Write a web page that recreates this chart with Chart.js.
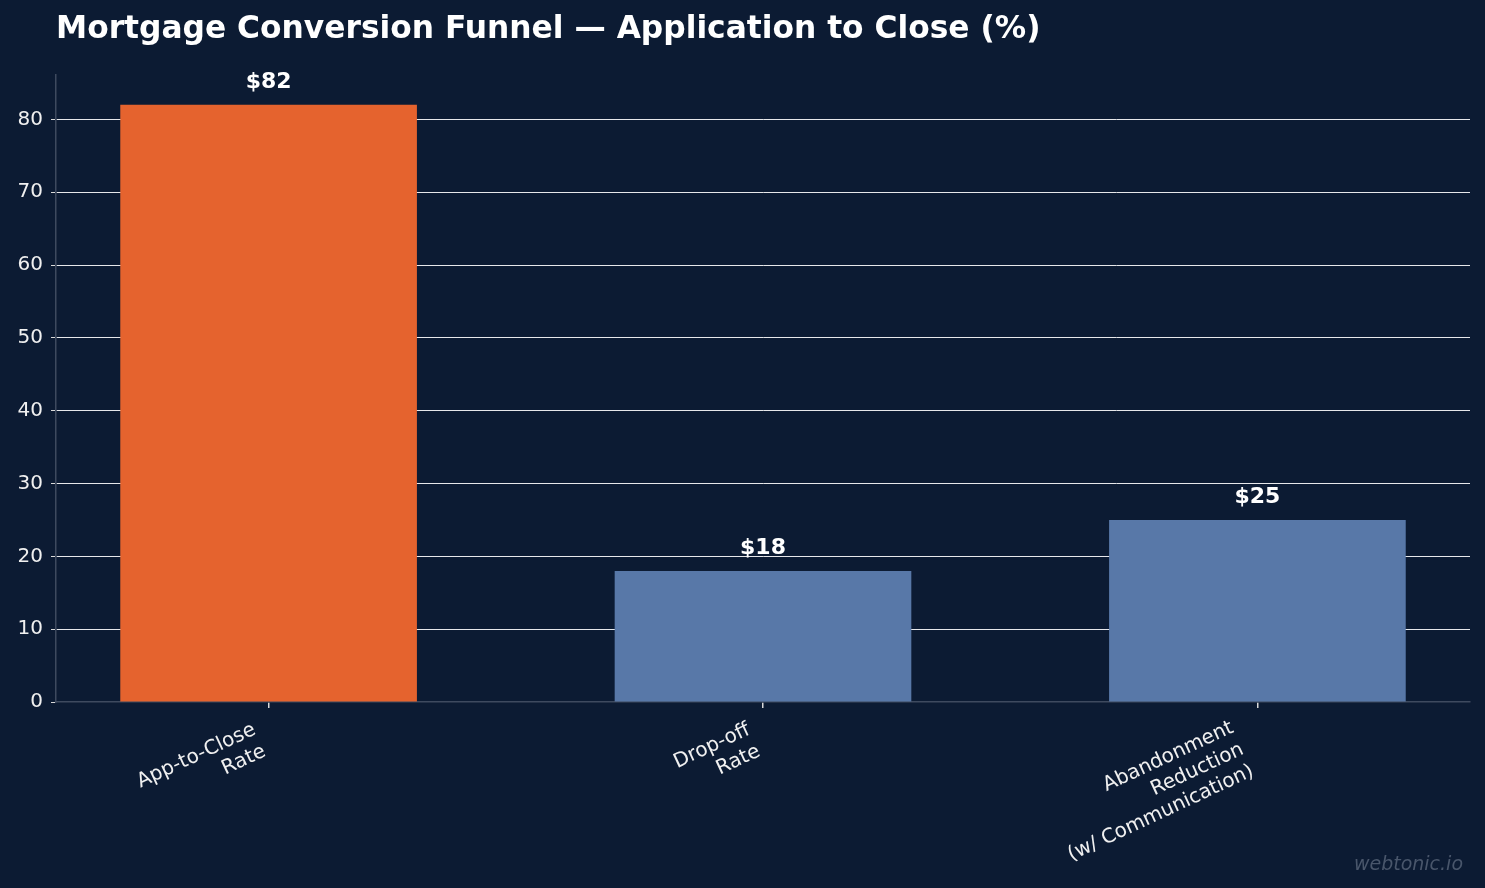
<!DOCTYPE html>
<html>
<head>
<meta charset="utf-8">
<script src="https://cdn.jsdelivr.net/npm/chart.js@4"></script>
<style>
  html, body { margin: 0; padding: 0; background: #0c1b33; }
  #wrap { width: 1485px; height: 888px; }
</style>
</head>
<body>
<div id="wrap"><canvas id="funnelChart" width="1485" height="888"></canvas></div>
<script>
// Datos del gráfico
const categorias = [
    ['App-to-Close', 'Rate'],
    ['Drop-off', 'Rate'],
    ['Abandonment', 'Reduction', '(w/ Communication)']
];
const valores = [82, 18, 25];
const etiquetas = ['$82', '$18', '$25'];
const coloresBarra = ['#e5632e', '#5878a8', '#5878a8'];
const ticksY = [0, 10, 20, 30, 40, 50, 60, 70, 80];
const titulo = 'Mortgage Conversion Funnel \u2014 Application to Close (%)';

const fuente = "'DejaVu Sans', sans-serif";

// Plugin: fondo, título, etiquetas de valor y marca de agua
const decoracion = {
    id: 'decoracion',
    beforeDraw(chart) {
        const c = chart.ctx;
        c.save();
        c.fillStyle = '#0c1b33';
        c.fillRect(0, 0, chart.width, chart.height);
        c.fillStyle = '#ffffff';
        c.font = 'bold 31.3px ' + fuente;
        c.textAlign = 'left';
        c.textBaseline = 'middle';
        c.fillText(titulo, chart.chartArea.left, 30);
        c.restore();

        // Alinear las etiquetas rotadas por su esquina derecha (como en el original)
        const xs = chart.scales.x;
        const items = xs.getLabelItems(chart.chartArea);
        items.forEach(function(it) {
            if (it._movido) return;
            const n = Array.isArray(it.label) ? it.label.length : 1;
            it.options.translation[0] -= 14 + 11 * (n - 2);
            it.options.translation[1] += 6 - 2 * (n - 2);
            it._movido = true;
        });
    },
    afterDatasetsDraw(chart) {
        const c = chart.ctx;
        const meta = chart.getDatasetMeta(0);
        c.save();
        c.fillStyle = '#ffffff';
        c.font = 'bold 22px ' + fuente;
        c.textAlign = 'center';
        c.textBaseline = 'alphabetic';
        meta.data.forEach(function(bar, i) {
            c.fillText(etiquetas[i], bar.x, bar.y - 17);
        });
        c.font = 'italic 19px ' + fuente;
        c.fillStyle = '#49566b';
        c.textAlign = 'right';
        c.fillText('webtonic.io', chart.width - 22, 870);
        c.restore();
    }
};

const ctx = document.getElementById('funnelChart').getContext('2d');
const funnelChart = new Chart(ctx, {
    type: 'bar',
    data: {
        datasets: [{
            data: valores.map(function(v, i) { return { x: i, y: v }; }),
            backgroundColor: coloresBarra,
            borderWidth: 0,
            barPercentage: 0.6,
            categoryPercentage: 1.0
        }]
    },
    options: {
        responsive: false,
        animation: false,
        layout: { padding: { top: 75, right: 15, left: 0, bottom: 0 } },
        plugins: {
            legend: { display: false },
            tooltip: { enabled: false }
        },
        scales: {
            x: {
                type: 'linear',
                min: -0.43,
                max: 2.43,
                offset: false,
                afterBuildTicks: function(scale) {
                    scale.ticks = categorias.map(function(_, i) { return { value: i }; });
                },
                afterFit: function(scale) { scale.height = 186; },
                ticks: {
                    autoSkip: false,
                    minRotation: 25,
                    maxRotation: 25,
                    color: '#f0f0f0',
                    padding: 4,
                    font: { family: fuente, size: 20 },
                    callback: function(v) { return categorias[v]; }
                },
                grid: {
                    offset: false,
                    drawOnChartArea: false,
                    drawTicks: true,
                    tickLength: 6,
                    tickColor: '#d9d9d9',
                    lineWidth: 1.5
                },
                border: { color: '#3e4a5f', width: 1.5 }
            },
            y: {
                min: 0,
                max: 86.1,
                z: 1,
                afterBuildTicks: function(scale) {
                    scale.ticks = ticksY.map(function(v) { return { value: v }; });
                },
                afterFit: function(scale) { scale.width = 56; },
                ticks: {
                    color: '#f0f0f0',
                    padding: 8,
                    font: { family: fuente, size: 20 }
                },
                grid: {
                    color: function(c) {
                        return c.tick && c.tick.value === 0 ? 'rgba(0,0,0,0)' : 'rgba(255,255,255,0.9)';
                    },
                    lineWidth: 1,
                    drawTicks: true,
                    tickLength: 5,
                    tickColor: '#d9d9d9'
                },
                border: { color: '#3e4a5f', width: 1.5 }
            }
        }
    },
    plugins: [decoracion]
});
</script>
</body>
</html>
